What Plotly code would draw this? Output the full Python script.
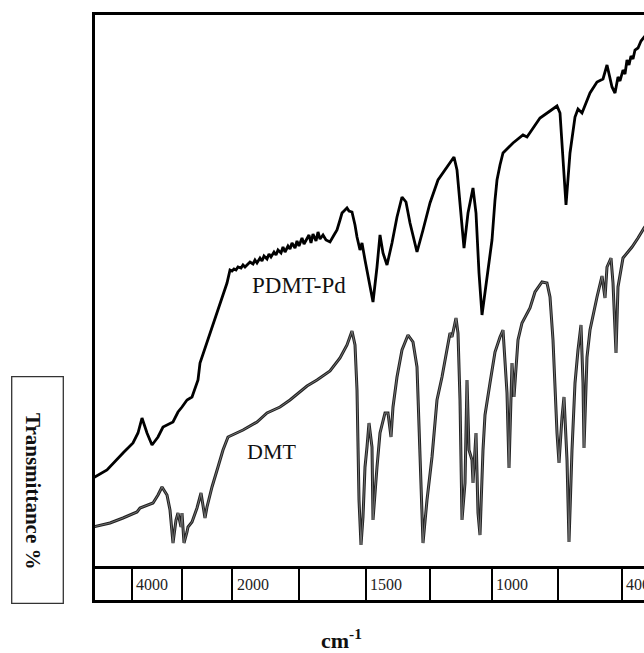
import plotly.graph_objects as go

# ---- data (x: position along the spectrum axis, y: transmittance, arbitrary units) ----
DMT_X = [0, 17, 30, 44, 47, 60, 65, 69, 74, 77, 80, 83, 85, 88, 89, 91, 94, 95, 99, 104,
         108, 110, 112, 114, 119, 125, 130, 135, 139, 150, 164, 174, 187, 197, 214, 224, 237, 247, 254, 259,
         262, 264, 266, 268, 270, 272, 274, 276, 279, 280, 284, 287, 292, 295, 298, 300, 304, 309, 315, 320,
         324, 327, 330, 334, 339, 344, 349, 357, 359, 363, 365, 367, 369, 372, 374, 376, 379, 380, 383, 385,
         387, 390, 392, 397, 402, 407, 410, 414, 416, 419, 421, 425, 429, 437, 442, 449, 454, 457, 460, 464,
         466, 469, 471, 474, 476, 479, 482, 485, 488, 490, 491, 494, 497, 504, 509, 512, 514, 518, 520, 523,
         525, 530, 539, 545, 551, 557]
DMT_Y = [41, 45, 50, 56, 60, 65, 73, 81, 73, 58, 25, 48, 55, 41, 55, 25, 36, 41, 46, 60,
         75, 63, 50, 61, 81, 101, 118, 131, 133, 138, 146, 155, 161, 168, 182, 188, 197, 210, 223, 237,
         223, 178, 68, 23, 51, 101, 121, 145, 121, 48, 101, 135, 155, 155, 131, 161, 191, 218, 233, 226,
         201, 101, 25, 68, 111, 168, 191, 235, 231, 250, 235, 168, 48, 85, 188, 118, 108, 85, 135, 55,
         33, 118, 153, 185, 216, 231, 238, 175, 100, 205, 171, 228, 245, 260, 276, 286, 285, 271, 228, 135,
         105, 151, 171, 108, 26, 118, 185, 218, 243, 185, 120, 211, 238, 271, 292, 270, 301, 310, 285, 215,
         281, 310, 321, 330, 340, 348]

PDMT_X = [0, 14, 30, 40, 45, 49, 54, 59, 65, 70, 80, 85, 89, 94, 99, 102, 105, 107, 117, 127,
          134, 137, 139, 141, 143, 145, 148, 150, 152, 155, 157, 160, 162, 164, 167, 169, 171, 174, 176, 178,
          181, 183, 185, 188, 190, 192, 195, 197, 199, 202, 204, 206, 209, 211, 213, 216, 218, 220, 223, 225,
          227, 230, 233, 237, 241, 244, 247, 249, 252, 254, 256, 259, 262, 264, 267, 269, 272, 277, 280, 284,
          287, 290, 294, 299, 304, 309, 313, 317, 324, 330, 337, 345, 354, 361, 364, 367, 371, 375, 380, 383,
          386, 389, 394, 399, 402, 404, 407, 410, 420, 430, 434, 447, 457, 464, 467, 470, 473, 477, 482, 485,
          489, 497, 504, 510, 514, 519, 522, 525, 527, 530, 532, 534, 536, 538, 540, 542, 545, 548, 551, 557]
PDMT_Y = [90, 98, 115, 125, 135, 150, 135, 123, 131, 141, 146, 156, 161, 168, 171, 180, 188, 205, 235, 265,
          285, 298, 297, 299, 298, 301, 300, 303, 301, 304, 306, 304, 308, 305, 310, 307, 312, 309, 314, 311,
          316, 313, 318, 315, 321, 316, 322, 319, 325, 320, 327, 322, 330, 324, 328, 333, 325, 334, 327, 336,
          329, 333, 328, 326, 333, 338, 348, 355, 358, 360, 357, 356, 343, 331, 318, 325, 308, 281, 266, 301,
          333, 315, 303, 325, 351, 371, 366, 345, 316, 338, 365, 388, 401, 411, 398, 361, 320, 355, 380, 355,
          295, 253, 288, 328, 368, 388, 403, 415, 425, 433, 431, 450, 457, 462, 455, 408, 363, 415, 451, 459,
          455, 475, 486, 489, 503, 481, 475, 491, 487, 498, 494, 508, 503, 512, 509, 518, 520, 527, 531, 538]

SERIES_NAMES = ["PDMT-Pd", "DMT"]
TICK_LABELS = ["4000", "2000", "1500", "1000", "400"]
TICK_POS = [38.7, 139.3, 272.7, 398.7, 528.7]
DIVIDERS = [38.7, 88.7, 139.3, 206.3, 272.7, 337, 398.7, 465.3, 528.7]
X_TITLE = "cm<sup>-1</sup>"
Y_TITLE = "Transmittance %"

# ---- figure ----
W, H = 644, 653
fig = go.Figure()

fig.add_trace(go.Scatter(x=DMT_X, y=DMT_Y, mode="lines", name=SERIES_NAMES[1],
                         line=dict(color="#222222", width=3.0), hoverinfo="skip", showlegend=False))
fig.add_trace(go.Scatter(x=DMT_X, y=DMT_Y, mode="lines", name=SERIES_NAMES[1],
                         line=dict(color="#7a7a7a", width=0.9), hoverinfo="skip", showlegend=False))
fig.add_trace(go.Scatter(x=PDMT_X, y=PDMT_Y, mode="lines", name=SERIES_NAMES[0],
                         line=dict(color="#000000", width=2.8), showlegend=False))

# invisible trace to create the band subplot
fig.add_trace(go.Scatter(x=[DMT_X[0]], y=[0.5], xaxis="x2", yaxis="y2", mode="markers",
                         marker=dict(opacity=0), hoverinfo="skip", showlegend=False))

x_left = 95 / W
main_bottom = (H - 566.2) / H
main_top = (H - 15) / H
band_top = (H - 569.2) / H
band_bottom = (H - 600) / H

fig.update_layout(
    width=W, height=H,
    margin=dict(l=0, r=0, t=0, b=0),
    paper_bgcolor="white", plot_bgcolor="white",
    font=dict(family="Liberation Serif, Times New Roman, serif", color="black"),
    xaxis=dict(domain=[x_left, 1], range=[2, 551], showline=True, mirror=True,
               linewidth=3, linecolor="black", showgrid=False, zeroline=False,
               showticklabels=False, ticks="", anchor="y"),
    yaxis=dict(domain=[main_bottom, main_top], range=[1.8, 553], showline=True,
               linewidth=3, linecolor="black", showgrid=False, zeroline=False,
               showticklabels=False, ticks="", anchor="x"),
    xaxis2=dict(domain=[x_left, 1], range=[2, 551], anchor="y2", showline=True,
                linewidth=3, linecolor="black", showgrid=True, gridcolor="black",
                gridwidth=1.5, tickmode="array", tickvals=DIVIDERS,
                showticklabels=False, ticks="", zeroline=False),
    yaxis2=dict(domain=[band_bottom, band_top], range=[0, 1], showline=True,
                linewidth=3, linecolor="black", showgrid=False, zeroline=False,
                showticklabels=False, ticks="", anchor="x2"),
)

# tick labels inside the band cells
for lab, pos in zip(TICK_LABELS, TICK_POS):
    fig.add_annotation(x=pos, y=(band_top + band_bottom) / 2, xref="x2", yref="paper",
                       text=lab, showarrow=False, xanchor="left", yanchor="middle",
                       xshift=2.5, font=dict(size=16, color="#222222"))

# series labels
fig.add_annotation(x=157, y=283, xref="x", yref="y", text=SERIES_NAMES[0], showarrow=False,
                   xanchor="left", yanchor="middle", font=dict(size=23, color="#111111"))
fig.add_annotation(x=152, y=117, xref="x", yref="y", text=SERIES_NAMES[1], showarrow=False,
                   xanchor="left", yanchor="middle", font=dict(size=22, color="#111111"))

# y-axis title in a box
fig.add_shape(type="rect", xref="paper", yref="paper",
              x0=11.7 / W, x1=63.3 / W, y0=(H - 603.3) / H, y1=(H - 376.7) / H,
              line=dict(color="#333333", width=1.3))
fig.add_annotation(x=33 / W, y=(H - 491) / H, xref="paper", yref="paper", text="<b>" + Y_TITLE + "</b>",
                   textangle=90, showarrow=False, xanchor="center", yanchor="middle",
                   font=dict(size=21, color="#111111"))

# x-axis title
fig.add_annotation(x=342 / W, y=0, xref="paper", yref="paper", text="<b>" + X_TITLE + "</b>",
                   showarrow=False, xanchor="center", yanchor="bottom", yshift=-2,
                   font=dict(size=22, color="#111111"))

fig.write_html("out.html")
